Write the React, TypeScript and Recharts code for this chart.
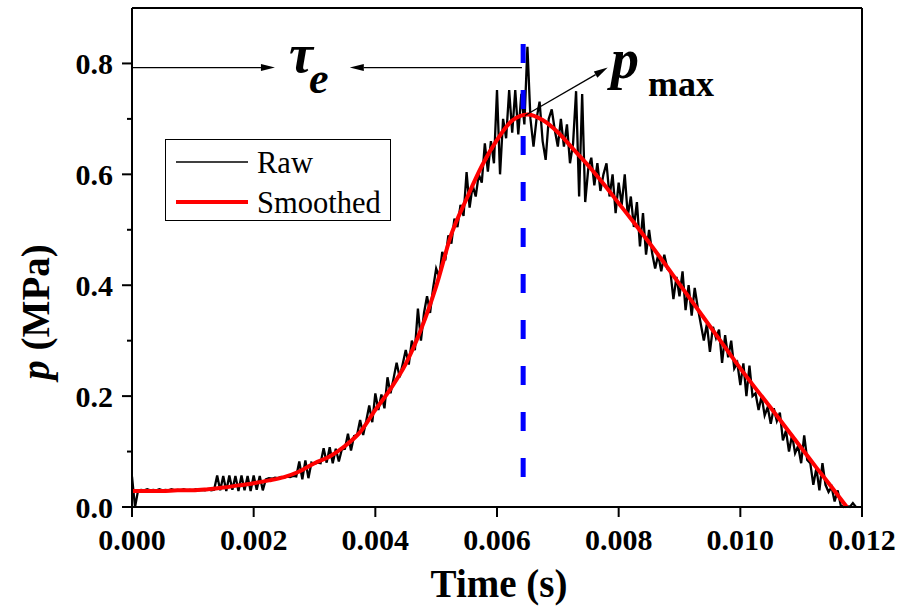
import React from "react";
import { LineChart, Line, XAxis, YAxis, ReferenceLine, Legend } from "recharts";

const FONT = '"Liberation Serif", "Times New Roman", serif';

// raw pressure trace, one sample every 0.05 ms
const RAW_STEP = 0.00005;
const rawPressure = [
  0.055, 0.0, 0.03,
  0.031, 0.03, 0.032, 0.03, 0.031, 0.03, 0.032, 0.03, 0.031, 0.03, 0.032, 0.03, 0.031,
  0.03, 0.032, 0.03, 0.031, 0.03, 0.032, 0.03, 0.031, 0.03, 0.032, 0.03, 0.031,
  0.057, 0.03, 0.056, 0.029, 0.057, 0.031, 0.056, 0.029, 0.057, 0.03, 0.056, 0.029,
  0.057, 0.031, 0.056, 0.03,
  0.05, 0.052, 0.051, 0.053, 0.052, 0.054, 0.053, 0.055, 0.054, 0.056, 0.055,
  0.082, 0.05, 0.084, 0.052, 0.08,
  0.078, 0.08, 0.079,
  0.106, 0.08, 0.108, 0.079, 0.105, 0.082, 0.104,
  0.105, 0.132, 0.102, 0.128, 0.13,
  0.157, 0.13, 0.155, 0.183, 0.153,
  0.205, 0.175, 0.203, 0.178, 0.234, 0.205, 0.232,
  0.26, 0.234, 0.258, 0.283, 0.257, 0.3, 0.283,
  0.358, 0.3, 0.35, 0.38, 0.35, 0.395,
  0.43, 0.415, 0.46, 0.445, 0.49, 0.475, 0.52, 0.505, 0.545, 0.525,
  0.604, 0.54, 0.58, 0.56, 0.6, 0.585, 0.656, 0.605, 0.66, 0.62,
  0.752, 0.6, 0.7, 0.665, 0.752, 0.675, 0.752, 0.672, 0.745, 0.69,
  0.83, 0.7, 0.65, 0.7, 0.731, 0.66, 0.626, 0.7, 0.717, 0.68,
  0.65, 0.7, 0.65, 0.69, 0.62, 0.655, 0.75, 0.56, 0.745, 0.55,
  0.61, 0.63, 0.58, 0.62, 0.57, 0.6, 0.62, 0.56, 0.6, 0.53,
  0.585, 0.545, 0.6, 0.525, 0.56, 0.505, 0.55, 0.47, 0.53, 0.455,
  0.5, 0.458, 0.43, 0.455, 0.425, 0.455, 0.43, 0.425, 0.375, 0.415,
  0.38, 0.425, 0.355, 0.4, 0.345, 0.395, 0.36, 0.33, 0.3, 0.33,
  0.28, 0.325, 0.305, 0.32, 0.26, 0.31, 0.27, 0.3, 0.25, 0.26,
  0.22, 0.259, 0.2, 0.255, 0.2, 0.205, 0.175, 0.2, 0.165, 0.18,
  0.15, 0.178, 0.155, 0.17, 0.12, 0.138, 0.1, 0.13, 0.097, 0.11,
  0.079, 0.129, 0.085, 0.079, 0.04, 0.07, 0.03, 0.079, 0.04, 0.027,
  0.036, 0.01, 0.03, 0.003, 0.0, 0.002, 0.0, 0.007, 0.0,
];

const smoothTime = [
  0, 0.00025, 0.0005, 0.00075, 0.001, 0.00125, 0.0015, 0.00175, 0.002, 0.00225,
  0.0025, 0.00275, 0.003, 0.00325, 0.0035, 0.00375, 0.004, 0.00425, 0.0045, 0.00475,
  0.005, 0.00525, 0.0055, 0.00575, 0.006, 0.00625, 0.0065, 0.00675, 0.007, 0.00725,
  0.0075, 0.00775, 0.008, 0.00825, 0.0085, 0.00875, 0.009, 0.00925, 0.0095, 0.00975,
  0.01, 0.01025, 0.0105, 0.01075, 0.011, 0.01125, 0.0115, 0.01175,
];
const smoothPressure = [
  0.029, 0.029, 0.029, 0.03, 0.03, 0.032, 0.035, 0.039, 0.043, 0.048,
  0.054, 0.064, 0.079, 0.091, 0.11, 0.135, 0.175, 0.213, 0.258, 0.32,
  0.398, 0.492, 0.556, 0.615, 0.662, 0.697, 0.708, 0.698, 0.676, 0.646,
  0.616, 0.583, 0.548, 0.513, 0.477, 0.44, 0.402, 0.364, 0.326, 0.288,
  0.25, 0.214, 0.179, 0.143, 0.107, 0.071, 0.036, 0.0,
];

const xTicks = [0, 0.002, 0.004, 0.006, 0.008, 0.01, 0.012];
const yTicks = [0, 0.1, 0.2, 0.3, 0.4, 0.5, 0.6, 0.7, 0.8];
const yFrameTicks = [0, 0.1, 0.2, 0.3, 0.4, 0.5, 0.6, 0.7, 0.8, 0.9];

// annotation anchors (data units)
const PEAK_T = 0.00643;
const TAU_Y = 0.7925;

const rawData = rawPressure.map((p, i) => ({ t: i * RAW_STEP, p }));
const smoothData = smoothTime.map((t, i) => ({ t, p: smoothPressure[i] }));

const TICK_SIZE = 10;
const TICK_MARGIN = 9;

function LeftTick(props: any) {
  const { x, y, payload } = props;
  const axisX = x + TICK_SIZE + TICK_MARGIN;
  const major = Math.round(payload.value * 10) % 2 === 0;
  return (
    <g>
      <line x1={axisX - (major ? 10 : 5)} x2={axisX} y1={y} y2={y} stroke="#000" strokeWidth={2} />
      {major && (
        <text
          x={x}
          y={y}
          dy="0.355em"
          textAnchor="end"
          fontFamily={FONT}
          fontWeight="bold"
          fontSize={30}
          fill="#000"
        >
          {payload.value.toFixed(1)}
        </text>
      )}
    </g>
  );
}

function Arrow(props: any) {
  const { x1, y1, x2, y2 } = props;
  const ang = Math.atan2(y2 - y1, x2 - x1);
  const len = 14;
  const hw = 3.5;
  const bx = x2 - len * Math.cos(ang);
  const by = y2 - len * Math.sin(ang);
  const px = -Math.sin(ang) * hw;
  const py = Math.cos(ang) * hw;
  return (
    <g>
      <line x1={x1} y1={y1} x2={bx} y2={by} stroke="#000" strokeWidth={1.3} />
      <polygon points={`${x2},${y2} ${bx + px},${by + py} ${bx - px},${by - py}`} fill="#000" />
    </g>
  );
}

function LegendBox(props: any) {
  const items = props.payload ?? [];
  return (
    <svg width={226} height={82} style={{ display: "block" }}>
      <rect x={0.5} y={0.5} width={225} height={81} fill="#fff" stroke="#000" strokeWidth={1} />
      {items.map((it: any, i: number) => (
        <g key={it.value}>
          <line
            x1={11}
            x2={83}
            y1={23 + i * 40}
            y2={23 + i * 40}
            stroke={it.color}
            strokeWidth={i === 0 ? 1.4 : 4}
          />
          <text x={92} y={34 + i * 40} fontFamily={FONT} fontSize={30.5} fill="#000">
            {it.value}
          </text>
        </g>
      ))}
    </svg>
  );
}

export default function App() {
  return (
    <div style={{ position: "absolute", left: 0, top: 0, width: 902, height: 606, background: "#fff" }}>
      <LineChart width={902} height={606} margin={{ top: 8, right: 40, bottom: 39, left: 32 }}>
        <XAxis
          dataKey="t"
          type="number"
          domain={[0, 0.012]}
          ticks={xTicks}
          interval={0}
          allowDataOverflow
          height={60}
          tickSize={10}
          tickMargin={12}
          tickFormatter={(v: number) => v.toFixed(3)}
          tick={{ fontSize: 30, fontWeight: "bold", fontFamily: FONT, fill: "#000" }}
          axisLine={{ stroke: "#000", strokeWidth: 2 }}
          tickLine={{ stroke: "#000", strokeWidth: 2 }}
        />
        <XAxis
          xAxisId="top"
          orientation="top"
          dataKey="t"
          type="number"
          domain={[0, 0.012]}
          ticks={xTicks}
          interval={0}
          mirror
          height={20}
          tickSize={4}
          tickFormatter={() => ""}
          axisLine={{ stroke: "#000", strokeWidth: 2 }}
          tickLine={{ stroke: "#000", strokeWidth: 1.5 }}
        />
        <YAxis
          type="number"
          domain={[0, 0.9]}
          ticks={yTicks}
          interval={0}
          width={100}
          tickSize={TICK_SIZE}
          tickMargin={TICK_MARGIN}
          tick={<LeftTick />}
          axisLine={{ stroke: "#000", strokeWidth: 2 }}
          tickLine={{ stroke: "none" }}
        />
        <YAxis
          yAxisId="right"
          orientation="right"
          type="number"
          domain={[0, 0.9]}
          ticks={yFrameTicks}
          interval={0}
          mirror
          width={20}
          tickSize={4}
          tickFormatter={() => ""}
          axisLine={{ stroke: "#000", strokeWidth: 2 }}
          tickLine={{ stroke: "#000", strokeWidth: 1.5 }}
        />
        <Legend
          layout="vertical"
          align="center"
          verticalAlign="middle"
          wrapperStyle={{ left: 165, top: 139, width: 226, height: 82 }}
          content={<LegendBox />}
        />
        <Line
          data={rawData}
          dataKey="p"
          name="Raw"
          type="linear"
          stroke="#000"
          strokeWidth={2.3}
          dot={false}
          activeDot={false}
          isAnimationActive={false}
        />
        <Line
          data={smoothData}
          dataKey="p"
          name="Smoothed"
          type="monotone"
          stroke="#ff0000"
          strokeWidth={4}
          dot={false}
          activeDot={false}
          isAnimationActive={false}
        />
        <ReferenceLine
          segment={[{ x: PEAK_T, y: 0.835 }, { x: PEAK_T, y: 0.048 }]}
          stroke="#0000ff"
          strokeWidth={5}
          strokeDasharray="19 27"
        />
        <ReferenceLine segment={[{ x: 0, y: TAU_Y }, { x: 0.00235, y: TAU_Y }]} shape={<Arrow />} />
        <ReferenceLine segment={[{ x: 0.00641, y: TAU_Y }, { x: 0.00358, y: TAU_Y }]} shape={<Arrow />} />
        <ReferenceLine segment={[{ x: 0.00646, y: 0.706 }, { x: 0.00782, y: TAU_Y }]} shape={<Arrow />} />
      </LineChart>
      <svg
        width={902}
        height={606}
        style={{ position: "absolute", left: 0, top: 0, pointerEvents: "none" }}
      >
        <text x={499} y={597} textAnchor="middle" fontFamily={FONT} fontWeight="bold" fontSize={39} fill="#000">
          Time (s)
        </text>
        <text
          transform="translate(49,312) rotate(-90)"
          textAnchor="middle"
          fontFamily={FONT}
          fontWeight="bold"
          fontSize={39}
          fill="#000"
        >
          <tspan fontStyle="italic">p</tspan> (MPa)
        </text>
        <text x={289} y={72} fontFamily={FONT} fontWeight="bold" fontStyle="italic" fontSize={54} fill="#000">
          τ
        </text>
        <text x={309} y={93} fontFamily={FONT} fontWeight="bold" fontStyle="italic" fontSize={44} fill="#000">
          e
        </text>
        <text x={611} y={78} fontFamily={FONT} fontWeight="bold" fontStyle="italic" fontSize={56} fill="#000">
          p
        </text>
        <text x={648} y={96} fontFamily={FONT} fontWeight="bold" fontSize={36} fill="#000">
          max
        </text>
      </svg>
    </div>
  );
}
